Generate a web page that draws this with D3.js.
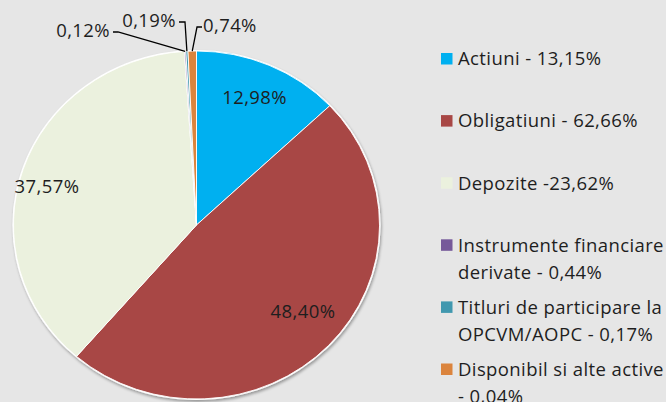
<!DOCTYPE html>
<html><head><meta charset="utf-8">
<script src="https://cdn.jsdelivr.net/npm/d3@7"></script>
<style>
html,body{margin:0;padding:0;background:#e6e6e6;}
svg{display:block;}
text{font-family:"Open Sans",Lato,sans-serif;fill:#1e1e1e;letter-spacing:0.4px;}
</style></head>
<body>
<svg id="chart" width="666" height="402"></svg>
<script>
// ---- data ----
const categories = ["Actiuni", "Obligatiuni", "Depozite", "Instrumente financiare derivate", "Titluri de participare la OPCVM/AOPC", "Disponibil si alte active"];
const pieValues = [12.98, 48.40, 37.57, 0.12, 0.19, 0.74];
const pieLabels = ["12,98%", "48,40%", "37,57%", "0,12%", "0,19%", "0,74%"];
const legendLines = [
  ["Actiuni - 13,15%"],
  ["Obligatiuni - 62,66%"],
  ["Depozite -23,62%"],
  ["Instrumente financiare", "derivate - 0,44%"],
  ["Titluri de participare la", "OPCVM/AOPC - 0,17%"],
  ["Disponibil si alte active", "- 0,04%"]
];
const colors = ["#00b0f0", "#a84745", "#ebf1de", "#76599a", "#4198af", "#db843d"];

// ---- layout ----
const cx = 196.5, cy = 225, R = 174, sx = 1.052;
const FS = 18.5;
const svg = d3.select("#chart");

const defs = svg.append("defs");
const f = defs.append("filter").attr("id","sh").attr("x","-10%").attr("y","-10%").attr("width","120%").attr("height","120%");
f.append("feGaussianBlur").attr("in","SourceAlpha").attr("stdDeviation",1.5).attr("result","b");
f.append("feOffset").attr("in","b").attr("dx",1).attr("dy",1.5).attr("result","o");
f.append("feComponentTransfer").attr("in","o").attr("result","o2")
  .append("feFuncA").attr("type","linear").attr("slope",0.35);
const m = f.append("feMerge");
m.append("feMergeNode").attr("in","o2");
m.append("feMergeNode").attr("in","SourceGraphic");

const pie = d3.pie().sort(null).value(d => d)(pieValues);
const arc = d3.arc().innerRadius(0).outerRadius(R);

const g = svg.append("g").attr("transform", `translate(${cx},${cy}) scale(${sx},1)`);
g.append("circle").attr("r", R + 1).attr("fill", "#ffffff").attr("filter","url(#sh)");
g.selectAll("path.slice").data(pie).join("path")
  .attr("class","slice")
  .attr("d", arc)
  .attr("fill", (d,i) => colors[i])
  .attr("stroke", "#ffffff")
  .attr("stroke-width", 0.9)
  .attr("vector-effect","non-scaling-stroke");

// inside labels
const labelArc = d3.arc().innerRadius(R*0.8).outerRadius(R*0.8);
const inside = [0,1,2];
svg.selectAll("text.in").data(inside).join("text")
  .attr("class","in")
  .attr("x", i => cx + labelArc.centroid(pie[i])[0]*sx)
  .attr("y", i => cy + labelArc.centroid(pie[i])[1])
  .attr("dy","0.35em")
  .attr("text-anchor","middle")
  .style("font-size", FS + "px")
  .text(i => pieLabels[i]);
svg.selectAll("text.in").filter(i=>i===2).attr("x", 47).attr("y", 187);
svg.selectAll("text.in").filter(i=>i===1).attr("x", 303).attr("y", 312);

// outside labels with leader lines
const outside = [
  {i:3, lx:110, ly:37, anchor:"end",   hx:118},
  {i:4, lx:176, ly:27, anchor:"end",   hx:185},
  {i:5, lx:203, ly:32, anchor:"start", hx:197}
];
outside.forEach(o => {
  const a = (pie[o.i].startAngle + pie[o.i].endAngle)/2;
  const px = cx + Math.sin(a)*R*sx, py = cy - Math.cos(a)*R;
  const ly = o.ly - 5;
  svg.append("polyline")
    .attr("points", `${o.anchor==="end"? o.lx+3 : o.lx-1},${ly} ${o.hx},${ly} ${px},${py}`)
    .attr("fill","none").attr("stroke","#000").attr("stroke-width",1.3);
  svg.append("text").attr("x", o.lx).attr("y", o.ly)
    .attr("text-anchor", o.anchor).style("font-size", FS + "px")
    .text(pieLabels[o.i]);
});

// legend
const lx0 = 441, ly0 = 53, step = 62.1, sq = 11.5, lh = 27;
const leg = svg.append("g");
categories.forEach((c, i) => {
  const y = ly0 + i*step;
  leg.append("rect").attr("x", lx0).attr("y", y).attr("width", sq).attr("height", sq)
    .attr("fill", colors[i]);
  const t = leg.append("text").attr("x", 458).attr("y", y + sq + 0.8).style("font-size", FS + "px");
  legendLines[i].forEach((ln, k) => {
    t.append("tspan").attr("x", 458).attr("dy", k===0 ? 0 : lh).text(ln);
  });
});
</script>
</body></html>
